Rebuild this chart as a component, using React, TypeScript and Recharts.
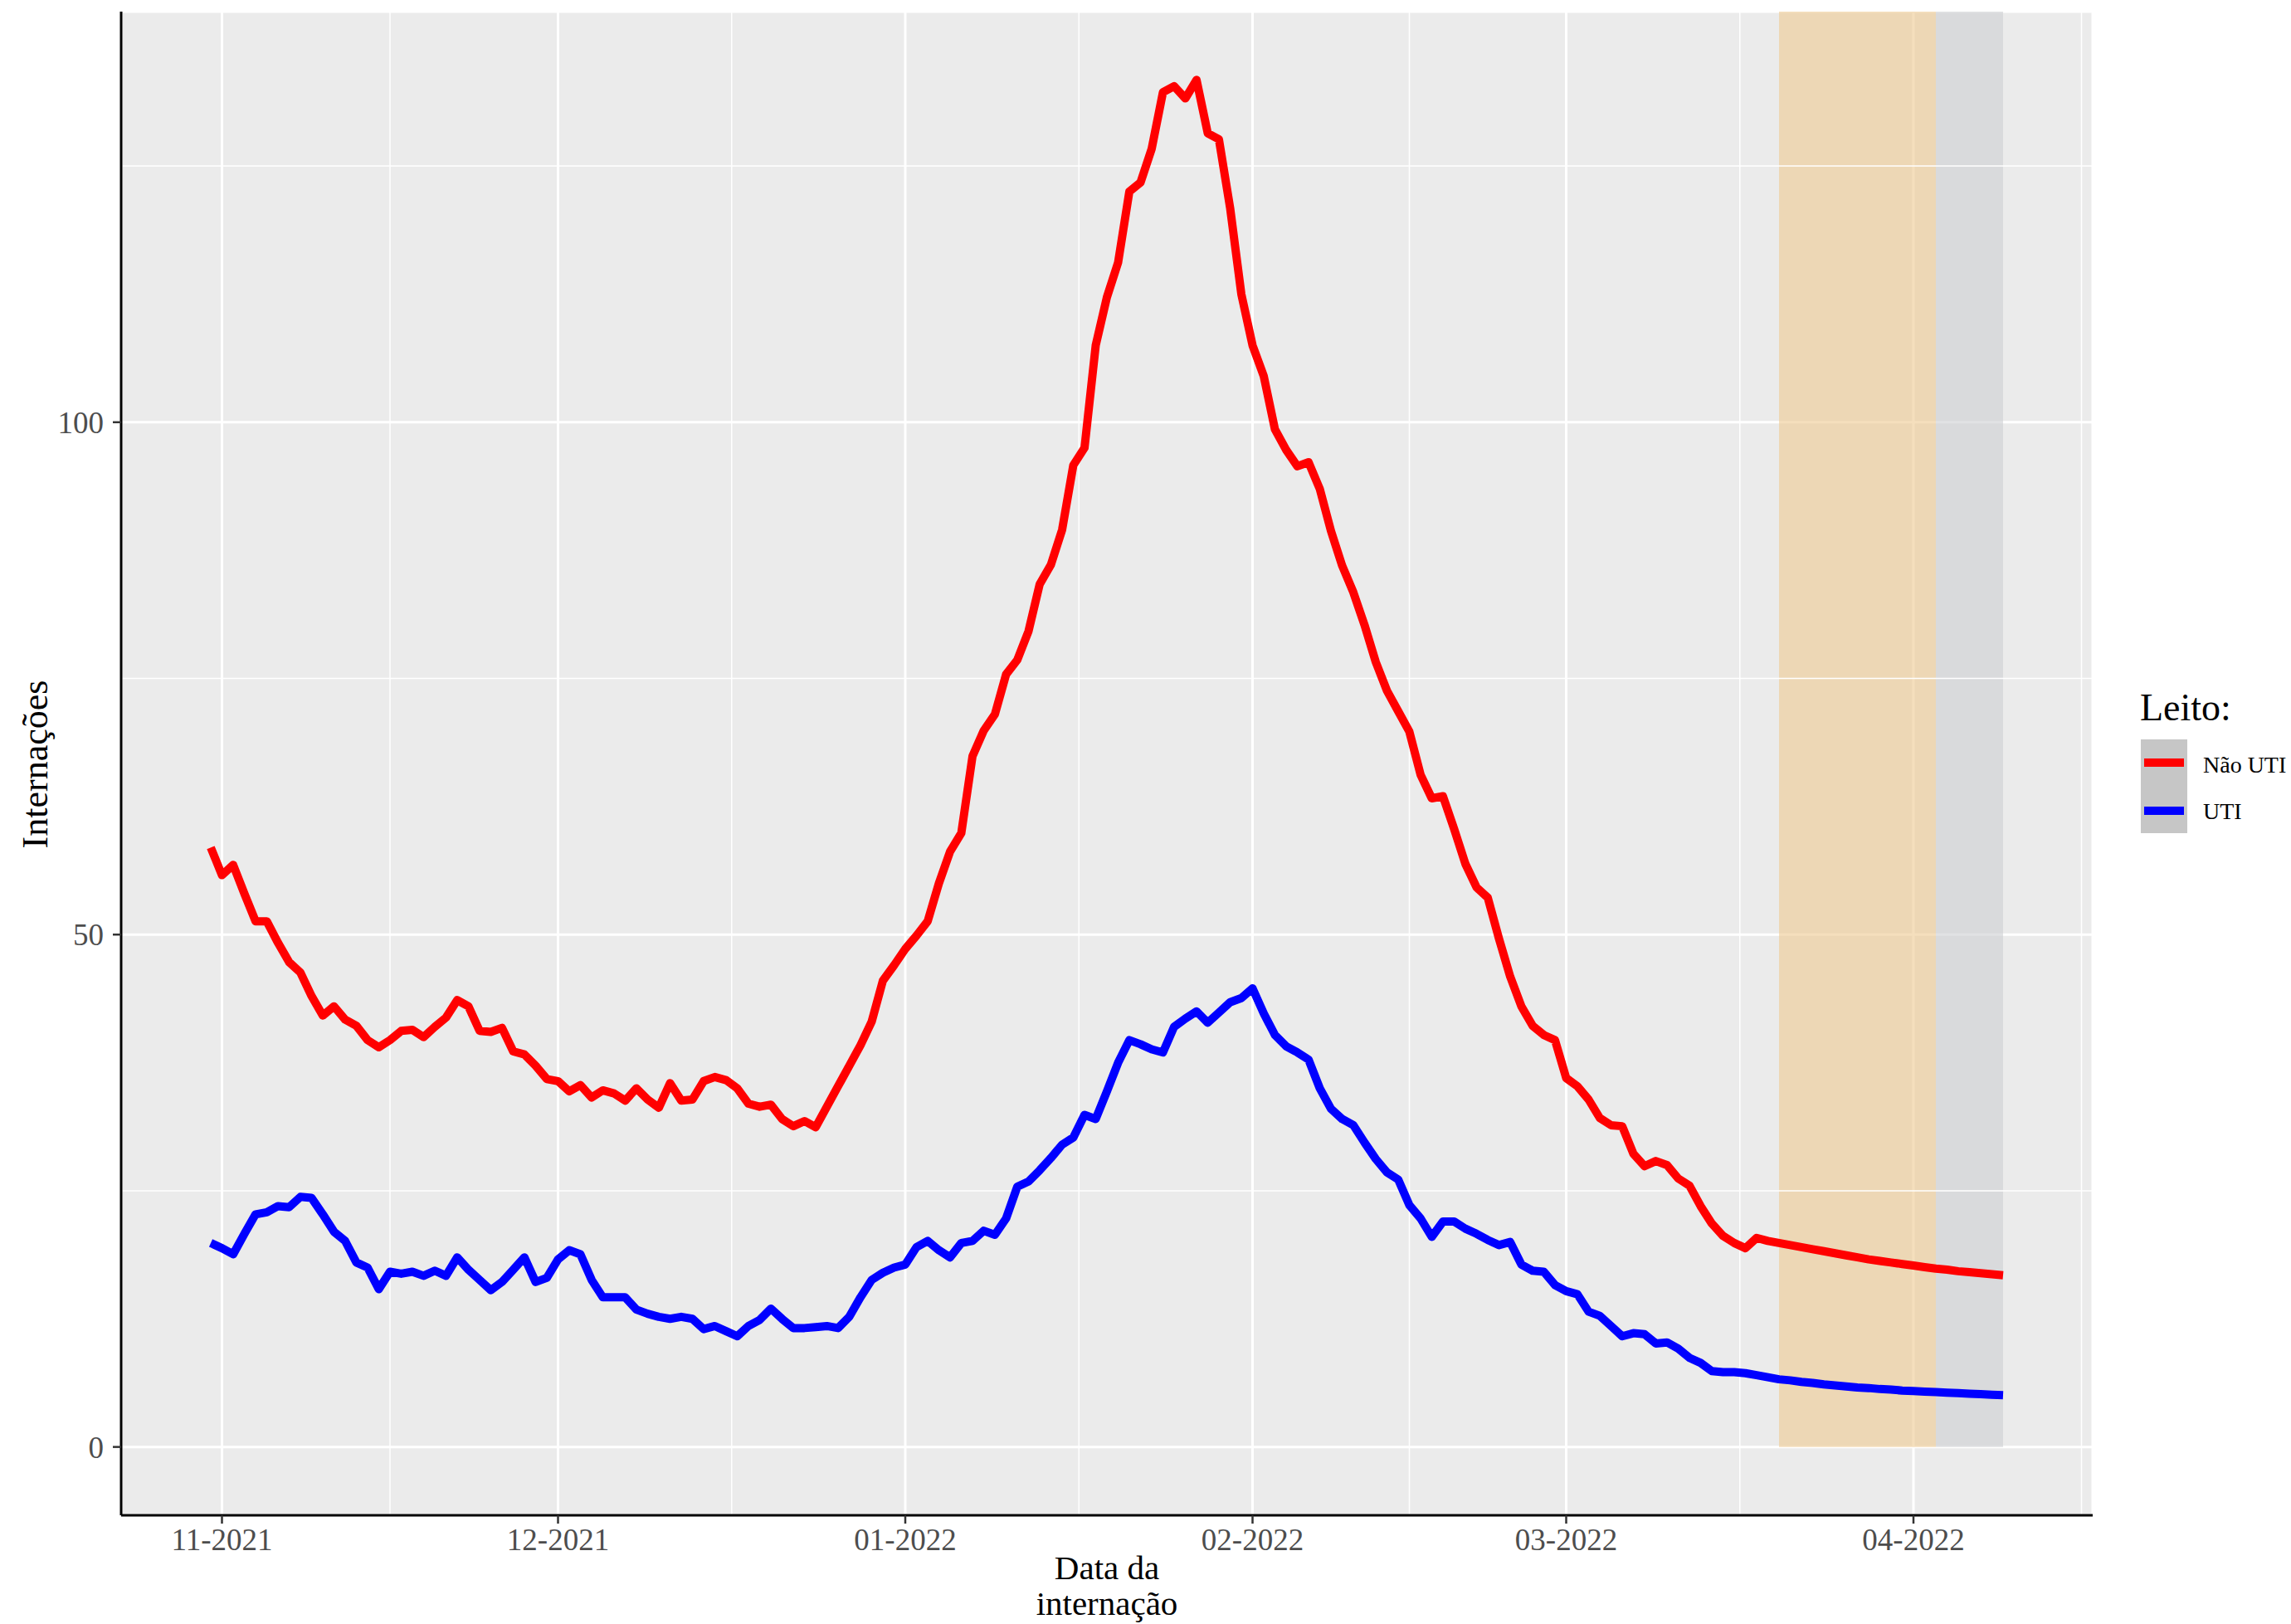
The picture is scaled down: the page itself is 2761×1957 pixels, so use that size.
import { LineChart, Line, XAxis, YAxis, CartesianGrid, ReferenceLine, ReferenceArea } from 'recharts';

const FONT = '"Liberation Serif", "DejaVu Serif", serif';

// days counted from 1 Nov 2021; first point is 31 Oct 2021
const firstDay = -1;

const naoUti = [
  58.5, 55.8, 56.8, 54.0, 51.3, 51.3, 49.2, 47.3, 46.3, 44.0,
  42.1, 43.0, 41.7, 41.1, 39.7, 39.0, 39.7, 40.6, 40.7, 40.0,
  41.0, 41.9, 43.6, 43.0, 40.6, 40.5, 40.9, 38.6, 38.3, 37.2,
  35.9, 35.7, 34.7, 35.3, 34.1, 34.8, 34.5, 33.8, 35.0, 33.9,
  33.1, 35.5, 33.8, 33.9, 35.7, 36.1, 35.8, 35.0, 33.5, 33.2,
  33.4, 32.0, 31.3, 31.8, 31.2, 33.2, 35.2, 37.2, 39.2, 41.5,
  45.5, 47.0, 48.6, 49.9, 51.3, 55.0, 58.1, 59.9, 67.4, 69.9,
  71.5, 75.4, 76.8, 79.6, 84.2, 86.1, 89.5, 95.8, 97.5, 107.5,
  112.2, 115.6, 122.5, 123.4, 126.7, 132.2, 132.8, 131.6, 133.4, 128.2,
  127.6, 120.9, 112.5, 107.5, 104.5, 99.3, 97.3, 95.7, 96.1, 93.5,
  89.4, 86.0, 83.4, 80.2, 76.6, 73.8, 71.8, 69.8, 65.6, 63.3,
  63.5, 60.3, 56.9, 54.6, 53.6, 49.6, 45.9, 43.0, 41.1, 40.2,
  39.7, 36.0, 35.2, 33.9, 32.1, 31.4, 31.3, 28.6, 27.4, 27.9,
  27.5, 26.2, 25.5, 23.5, 21.8, 20.6, 19.9, 19.4, 20.4, 20.1,
  19.9, 19.7, 19.5, 19.3, 19.1, 18.9, 18.7, 18.5, 18.3, 18.15,
  18.0, 17.85, 17.7, 17.55, 17.4, 17.3, 17.15, 17.05, 16.95, 16.85,
  16.75,
];

const uti = [
  19.9, 19.4, 18.8, 20.8, 22.7, 22.9, 23.5, 23.4, 24.4, 24.3,
  22.7, 21.0, 20.1, 18.0, 17.5, 15.4, 17.1, 16.9, 17.1, 16.7,
  17.2, 16.7, 18.5, 17.3, 16.3, 15.3, 16.1, 17.3, 18.5, 16.1,
  16.5, 18.3, 19.2, 18.8, 16.3, 14.6, 14.6, 14.6, 13.4, 13.0,
  12.7, 12.5, 12.7, 12.5, 11.5, 11.8, 11.3, 10.8, 11.8, 12.4,
  13.5, 12.5, 11.6, 11.6, 11.7, 11.8, 11.6, 12.7, 14.6, 16.3,
  17.0, 17.5, 17.8, 19.5, 20.1, 19.2, 18.5, 19.9, 20.1, 21.1,
  20.7, 22.3, 25.4, 25.9, 27.0, 28.2, 29.5, 30.2, 32.4, 32.0,
  34.7, 37.5, 39.7, 39.3, 38.8, 38.5, 41.0, 41.8, 42.5, 41.4,
  42.4, 43.4, 43.8, 44.75, 42.3, 40.2, 39.1, 38.5, 37.8, 35.0,
  33.0, 32.0, 31.4, 29.7, 28.1, 26.8, 26.1, 23.6, 22.3, 20.5,
  22.0, 22.0, 21.3, 20.8, 20.2, 19.7, 20.0, 17.8, 17.2, 17.1,
  15.8, 15.2, 14.9, 13.2, 12.8, 11.8, 10.8, 11.1, 11.0, 10.1,
  10.2, 9.6, 8.7, 8.2, 7.4, 7.3, 7.3, 7.2, 7.0, 6.8,
  6.6, 6.5, 6.35, 6.25, 6.1, 6.0, 5.9, 5.8, 5.75, 5.65,
  5.6, 5.5, 5.45, 5.4, 5.35, 5.3, 5.25, 5.2, 5.15, 5.1,
  5.05,
];

const monthTicks = [0, 30, 61, 92, 120, 151];
const monthLabels = ['11-2021', '12-2021', '01-2022', '02-2022', '03-2022', '04-2022'];
const minorX = [15, 45.5, 76.5, 106, 135.5, 166];
const yTicks = [0, 50, 100];
const minorY = [25, 75, 125];
const orangeBand = [139, 153];
const greyBand = [153, 159];

const xDomain = [-9, 167];
const yDomain = [-6.67, 140.07];

const chartData = naoUti.map((v, i) => ({ day: firstDay + i, naoUti: v, uti: uti[i] }));

function Legenda() {
  return (
    <svg width={200} height={200} style={{ position: 'absolute', left: 2570, top: 820 }}>
      <text x={9} y={48} fontSize={46} fontFamily={FONT} fill="#000">Leito:</text>
      <rect x={10} y={71} width={56} height={113} fill="#C6C6C6" />
      <line x1={14} x2={62} y1={99} y2={99} stroke="#FF0000" strokeWidth={10} />
      <line x1={14} x2={62} y1={157} y2={157} stroke="#0000FF" strokeWidth={10} />
      <text x={85} y={111} fontSize={28} fontFamily={FONT} fill="#000">Não UTI</text>
      <text x={85} y={167} fontSize={28} fontFamily={FONT} fill="#000">UTI</text>
    </svg>
  );
}

export default function App() {
  return (
    <div
      style={{
        position: 'absolute',
        left: 0,
        top: 0,
        width: 2761,
        height: 1957,
        overflow: 'hidden',
        background: '#fff',
      }}
    >
      <LineChart width={2761} height={1957} data={chartData} margin={{ top: 14, right: 239, left: 0, bottom: 0 }}>
        <CartesianGrid fill="#EBEBEB" stroke="#FFFFFF" strokeWidth={3} />
        {minorY.map((y) => (
          <ReferenceLine key={'my' + y} y={y} stroke="#FFFFFF" strokeWidth={1.5} />
        ))}
        {minorX.map((x) => (
          <ReferenceLine key={'mx' + x} x={x} stroke="#FFFFFF" strokeWidth={1.5} />
        ))}
        <ReferenceArea x1={orangeBand[0]} x2={orangeBand[1]} y1={0} y2={yDomain[1]} fill="#EECA91" fillOpacity={0.6} stroke="none" />
        <ReferenceArea x1={greyBand[0]} x2={greyBand[1]} y1={0} y2={yDomain[1]} fill="#CDCFD2" fillOpacity={0.6} stroke="none" />
        <XAxis
          dataKey="day"
          type="number"
          domain={xDomain}
          ticks={monthTicks}
          interval={0}
          allowDataOverflow
          tickFormatter={(d: number) => monthLabels[monthTicks.indexOf(d)]}
          height={131}
          tickSize={10}
          tickMargin={6}
          axisLine={{ stroke: '#000', strokeWidth: 3 }}
          tickLine={{ stroke: '#333', strokeWidth: 2.5 }}
          tick={{ fill: '#4D4D4D', fontSize: 37, fontFamily: FONT }}
        />
        <YAxis
          type="number"
          domain={yDomain}
          ticks={yTicks}
          interval={0}
          allowDataOverflow
          width={146}
          tickSize={10}
          tickMargin={11}
          axisLine={{ stroke: '#000', strokeWidth: 3 }}
          tickLine={{ stroke: '#333', strokeWidth: 2.5 }}
          tick={{ fill: '#4D4D4D', fontSize: 37, fontFamily: FONT }}
        />
        <Line type="linear" dataKey="naoUti" stroke="#FF0000" strokeWidth={10} dot={false} strokeLinejoin="round" isAnimationActive={false} />
        <Line type="linear" dataKey="uti" stroke="#0000FF" strokeWidth={10} dot={false} strokeLinejoin="round" isAnimationActive={false} />
      </LineChart>

      <svg width={2761} height={1957} style={{ position: 'absolute', left: 0, top: 0, pointerEvents: 'none' }}>
        <text x={57} y={921} transform="rotate(-90 57 921)" textAnchor="middle" fontSize={44} fontFamily={FONT} fill="#000">
          Internações
        </text>
        <text x={1334} y={1903} textAnchor="middle" fontSize={41} fontFamily={FONT} fill="#000">Data da</text>
        <text x={1334} y={1946} textAnchor="middle" fontSize={41} fontFamily={FONT} fill="#000">internação</text>
      </svg>
      <Legenda />
    </div>
  );
}
